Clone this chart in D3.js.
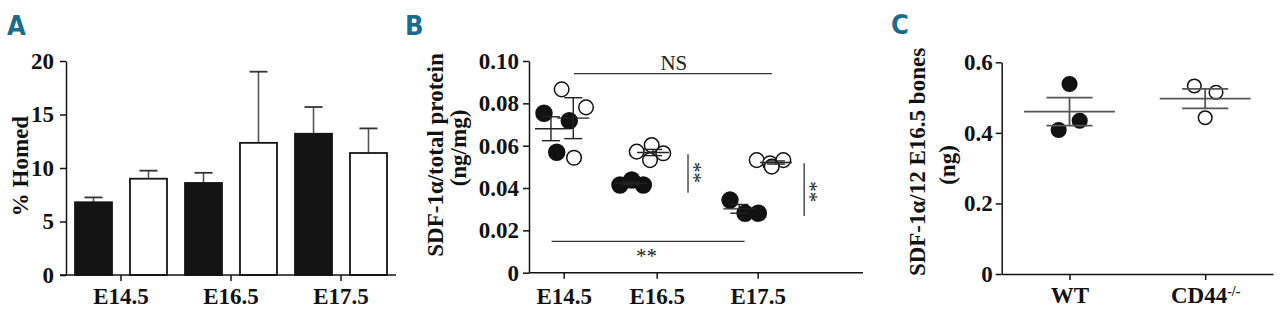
<!DOCTYPE html>
<html>
<head>
<meta charset="utf-8">
<script src="https://cdn.jsdelivr.net/npm/d3@7"></script>
<style>
  body { margin: 0; background: #fff; }
  svg { display: block; }
  .axis path, .axis line { stroke: #111; stroke-width: 1.5px; }
  .lbl { font-family: "Liberation Serif", "Times New Roman", serif; font-weight: bold; font-size: 23px; fill: #111; }
  .panel { font-family: "DejaVu Sans Condensed", "Liberation Sans Narrow", sans-serif; font-stretch: condensed; font-weight: bold; font-size: 27px; fill: #1b6b8c; }
  .sig { font-family: "Liberation Serif", "Times New Roman", serif; font-size: 21px; fill: #222; }
</style>
</head>
<body>
<div class="graphic"></div>
<script>
// panel A: % homed, bars = mean, error = SEM
const ages = ['E14.5', 'E16.5', 'E17.5'];
const wtHomed = [6.8, 8.6, 13.2];
const wtHomedSem = [0.45, 0.95, 2.5];
const koHomed = [9.0, 12.35, 11.4];
const koHomedSem = [0.75, 6.65, 2.3];
const ticksA = [0, 5, 10, 15, 20];

// panel B: SDF-1a / total protein, points as [x position, value]
const wtSdf = [
  [[-0.212, 0.0753], [0.06, 0.0718], [-0.075, 0.0569]],
  [[0.605, 0.0414], [0.731, 0.0438], [0.856, 0.0414]],
  [[1.726, 0.0343], [1.875, 0.0281], [2.006, 0.0281]]
];
const koSdf = [
  [[-0.022, 0.0866], [0.24, 0.0781], [0.111, 0.0543]],
  [[0.785, 0.0572], [0.946, 0.0603], [1.065, 0.0564], [0.928, 0.0532]],
  [[1.99, 0.0532], [2.122, 0.0517], [2.254, 0.0532], [2.139, 0.0501]]
];
const wtSdfCenter = [-0.137, 0.724, 1.818];
const koSdfCenter = [0.103, 0.96, 2.18];
const ticksB = [0, 0.02, 0.04, 0.06, 0.08, 0.10];

// panel C: SDF-1a per 12 E16.5 bones
const genotypes = ['WT', 'CD44'];
const wtBones = [0.5385, 0.408, 0.4345];
const wtJitter = [0, -0.08, 0.075];
const koBones = [0.533, 0.515, 0.443];
const koJitter = [-0.08, 0.08, 0];
const ticksC = [0, 0.2, 0.4, 0.6];

const serif = '"Liberation Serif", "Times New Roman", serif';

const svg = d3.select('.graphic').append('svg')
  .attr('width', 1280)
  .attr('height', 321);

const sem = v => d3.deviation(v) / Math.sqrt(v.length);

const styleAxis = g => g
  .attr('font-family', serif)
  .attr('font-size', 23)
  .attr('font-weight', 'bold')
  .call(s => s.selectAll('text').attr('fill', '#111'));

// ---------- A ----------
const yA = d3.scaleLinear().domain([0, 20]).range([275, 61]);
const xA = d3.scaleBand().domain(ages).range([66, 396]);
const xSubA = d3.scaleBand().domain(['wt', 'ko']).range([0, xA.bandwidth()])
  .paddingInner(0.327).paddingOuter(0.164);

const barsA = [];
ages.forEach((a, i) => {
  barsA.push({ age: a, g: 'wt', v: wtHomed[i], e: wtHomedSem[i] });
  barsA.push({ age: a, g: 'ko', v: koHomed[i], e: koHomedSem[i] });
});
const midA = d => xA(d.age) + xSubA(d.g) + xSubA.bandwidth() / 2;

svg.selectAll('line.errA')
  .data(barsA)
  .enter()
  .append('line')
  .attr('class', 'errA')
  .attr('x1', midA)
  .attr('x2', midA)
  .attr('y1', d => yA(d.v))
  .attr('y2', d => yA(d.v + d.e))
  .attr('stroke', '#555')
  .attr('stroke-width', 1.6);

svg.selectAll('line.capA')
  .data(barsA)
  .enter()
  .append('line')
  .attr('class', 'capA')
  .attr('x1', d => midA(d) - 9)
  .attr('x2', d => midA(d) + 9)
  .attr('y1', d => yA(d.v + d.e))
  .attr('y2', d => yA(d.v + d.e))
  .attr('stroke', '#333')
  .attr('stroke-width', 1.8);

svg.selectAll('rect.barA')
  .data(barsA)
  .enter()
  .append('rect')
  .attr('class', 'barA')
  .attr('x', d => xA(d.age) + xSubA(d.g))
  .attr('width', xSubA.bandwidth())
  .attr('y', d => yA(d.v))
  .attr('height', d => yA(0) - yA(d.v))
  .attr('fill', d => d.g === 'wt' ? '#141414' : '#fff')
  .attr('stroke', '#141414')
  .attr('stroke-width', 1.8);

svg.append('g')
  .attr('class', 'axis')
  .attr('transform', 'translate(66,0)')
  .call(d3.axisLeft(yA).tickValues(ticksA).tickSize(6).tickSizeOuter(0).tickPadding(6))
  .call(styleAxis);

const gxA = svg.append('g')
  .attr('class', 'axis')
  .attr('transform', 'translate(0,275)')
  .call(d3.axisBottom(xA).tickSize(6).tickSizeOuter(0).tickPadding(7))
  .call(styleAxis);
gxA.select('.domain').remove();
svg.append('line')
  .attr('x1', xA.range()[0] - 6).attr('x2', xA.range()[1])
  .attr('y1', yA(0)).attr('y2', yA(0))
  .attr('stroke', '#111').attr('stroke-width', 1.5);

svg.append('text')
  .attr('class', 'lbl')
  .attr('transform', 'translate(28,166) rotate(-90)')
  .attr('text-anchor', 'middle')
  .text('% Homed');

svg.append('text').attr('class', 'panel').attr('x', 7).attr('y', 35).text('A');

// ---------- B ----------
const yB = d3.scaleLinear().domain([0, 0.1]).range([272.7, 61]);
const xB = d3.scaleLinear().domain([0, 1, 2]).range([563.7, 656.7, 757.7]);

const groupsB = [];
ages.forEach((a, i) => {
  groupsB.push({ g: 'wt', c: wtSdfCenter[i], pts: wtSdf[i] });
  groupsB.push({ g: 'ko', c: koSdfCenter[i], pts: koSdf[i] });
});

const dotsB = [];
groupsB.forEach(gr => gr.pts.forEach(p => dotsB.push({ g: gr.g, x: p[0], v: p[1] })));

svg.selectAll('circle.dotB')
  .data(dotsB)
  .enter()
  .append('circle')
  .attr('class', 'dotB')
  .attr('cx', d => xB(d.x))
  .attr('cy', d => yB(d.v))
  .attr('r', d => d.g === 'wt' ? 8 : 7.3)
  .attr('fill', d => d.g === 'wt' ? '#111' : '#fff')
  .attr('stroke', '#111')
  .attr('stroke-width', 1.5);

const statsB = groupsB.map(gr => {
  const v = gr.pts.map(p => p[1]);
  return { c: gr.c, m: d3.mean(v), e: sem(v) };
});

const errB = svg.selectAll('g.errB')
  .data(statsB)
  .enter()
  .append('g')
  .attr('class', 'errB')
  .attr('stroke', '#222')
  .attr('stroke-width', 1.4);
errB.append('line')
  .attr('x1', d => xB(d.c)).attr('x2', d => xB(d.c))
  .attr('y1', d => yB(d.m + d.e)).attr('y2', d => yB(d.m - d.e));
errB.append('line')
  .attr('x1', d => xB(d.c) - 16).attr('x2', d => xB(d.c) + 16)
  .attr('y1', d => yB(d.m)).attr('y2', d => yB(d.m));
errB.append('line')
  .attr('x1', d => xB(d.c) - 9).attr('x2', d => xB(d.c) + 9)
  .attr('y1', d => yB(d.m + d.e)).attr('y2', d => yB(d.m + d.e));
errB.append('line')
  .attr('x1', d => xB(d.c) - 9).attr('x2', d => xB(d.c) + 9)
  .attr('y1', d => yB(d.m - d.e)).attr('y2', d => yB(d.m - d.e));

svg.append('g')
  .attr('class', 'axis')
  .attr('transform', 'translate(529,0)')
  .call(d3.axisLeft(yB).tickValues(ticksB).tickSize(6).tickSizeOuter(0).tickPadding(4)
    .tickFormat(d => d === 0 ? '0' : d3.format('.2f')(d)))
  .call(styleAxis);

const gxB = svg.append('g')
  .attr('class', 'axis')
  .attr('transform', 'translate(0,272.7)')
  .call(d3.axisBottom(xB).tickValues([0, 1, 2]).tickSize(6).tickPadding(9)
    .tickFormat((d, i) => ages[i]))
  .call(styleAxis);
gxB.select('.domain').remove();
svg.append('line')
  .attr('x1', 529).attr('x2', 863)
  .attr('y1', yB(0)).attr('y2', yB(0))
  .attr('stroke', '#111').attr('stroke-width', 1.5);

// significance marks
const sigLine = (x1, y1, x2, y2) => svg.append('line')
  .attr('x1', x1).attr('y1', y1).attr('x2', x2).attr('y2', y2)
  .attr('stroke', '#333').attr('stroke-width', 1.3);
sigLine(xB(0.11), 73.7, xB(2.14), 73.7);
svg.append('text').attr('class', 'sig').attr('x', xB(1.17)).attr('y', 70)
  .attr('text-anchor', 'middle').text('NS');
sigLine(xB(-0.13), 241.3, xB(1.87), 241.3);
svg.append('text').attr('class', 'sig').attr('x', xB(0.89)).attr('y', 263)
  .attr('text-anchor', 'middle').text('**');
sigLine(xB(1.31), yB(0.056), xB(1.31), yB(0.0378));
svg.append('text').attr('class', 'sig')
  .attr('transform', `translate(${xB(1.31) - 1},172.5) rotate(90)`)
  .attr('text-anchor', 'middle').text('**');
sigLine(xB(2.46), yB(0.0517), xB(2.46), yB(0.0268));
svg.append('text').attr('class', 'sig')
  .attr('transform', `translate(${xB(2.46) - 1},191.7) rotate(90)`)
  .attr('text-anchor', 'middle').text('**');

svg.append('text').attr('class', 'lbl').attr('text-anchor', 'middle')
  .attr('transform', 'translate(443,155) rotate(-90)')
  .text('SDF-1α/total protein');
svg.append('text').attr('class', 'lbl').attr('text-anchor', 'middle')
  .attr('transform', 'translate(466,148) rotate(-90)')
  .text('(ng/mg)');

svg.append('text').attr('class', 'panel').attr('x', 405).attr('y', 35).text('B');

// ---------- C ----------
const yC = d3.scaleLinear().domain([0, 0.6]).range([274, 62.3]);
const xC = d3.scalePoint().domain(genotypes).range([1001.7, 1273]).padding(0.5);
const stepC = xC.step();

const dotsC = wtBones.map((v, i) => ({ g: 'WT', v, j: wtJitter[i] }))
  .concat(koBones.map((v, i) => ({ g: 'CD44', v, j: koJitter[i] })));

svg.selectAll('circle.dotC')
  .data(dotsC)
  .enter()
  .append('circle')
  .attr('class', 'dotC')
  .attr('cx', d => xC(d.g) + d.j * stepC)
  .attr('cy', d => yC(d.v))
  .attr('r', d => d.g === 'WT' ? 7.3 : 6.8)
  .attr('fill', d => d.g === 'WT' ? '#111' : '#fff')
  .attr('stroke', '#111')
  .attr('stroke-width', 1.5);

const statsC = [
  { g: 'WT', m: d3.mean(wtBones), e: sem(wtBones) },
  { g: 'CD44', m: d3.mean(koBones), e: sem(koBones) }
];
const errC = svg.selectAll('g.errC')
  .data(statsC)
  .enter()
  .append('g')
  .attr('class', 'errC')
  .attr('stroke', '#555')
  .attr('stroke-width', 1.8);
errC.append('line')
  .attr('x1', d => xC(d.g)).attr('x2', d => xC(d.g))
  .attr('y1', d => yC(d.m + d.e)).attr('y2', d => yC(d.m - d.e));
errC.append('line')
  .attr('x1', d => xC(d.g) - stepC * 0.335).attr('x2', d => xC(d.g) + stepC * 0.335)
  .attr('y1', d => yC(d.m)).attr('y2', d => yC(d.m));
errC.append('line')
  .attr('x1', d => xC(d.g) - stepC * 0.17).attr('x2', d => xC(d.g) + stepC * 0.17)
  .attr('y1', d => yC(d.m + d.e)).attr('y2', d => yC(d.m + d.e));
errC.append('line')
  .attr('x1', d => xC(d.g) - stepC * 0.17).attr('x2', d => xC(d.g) + stepC * 0.17)
  .attr('y1', d => yC(d.m - d.e)).attr('y2', d => yC(d.m - d.e));

svg.append('g')
  .attr('class', 'axis')
  .attr('transform', 'translate(1001.7,0)')
  .call(d3.axisLeft(yC).tickValues(ticksC).tickSize(6).tickSizeOuter(0).tickPadding(3)
    .tickFormat(d => d === 0 ? '0' : d3.format('.1f')(d)))
  .call(styleAxis);

const gxC = svg.append('g')
  .attr('class', 'axis')
  .attr('transform', 'translate(0,274)')
  .call(d3.axisBottom(xC).tickSize(6).tickSizeOuter(0).tickPadding(7))
  .call(styleAxis);
gxC.selectAll('.tick text').filter(d => d === 'CD44')
  .append('tspan')
  .attr('dy', '-0.5em')
  .attr('font-size', '14px')
  .text('-/-');

svg.append('text').attr('class', 'lbl').attr('text-anchor', 'middle')
  .attr('transform', 'translate(925,162) rotate(-90)')
  .text('SDF-1α/12 E16.5 bones');
svg.append('text').attr('class', 'lbl').attr('text-anchor', 'middle')
  .attr('transform', 'translate(955,165) rotate(-90)')
  .text('(ng)');

svg.append('text').attr('class', 'panel').attr('x', 891).attr('y', 34).text('C');
</script>
</body>
</html>
